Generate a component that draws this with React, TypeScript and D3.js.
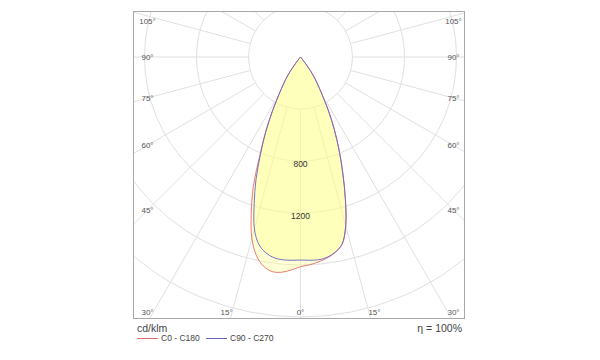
import React, { useEffect, useRef } from 'react'
import * as d3 from 'd3'

// gamma angles (deg from nadir) and luminous intensity (cd/klm) per half plane
const gammas = [0, 2.5, 5, 7.5, 10, 12.5, 15, 17.5, 20, 22.5, 25, 27.5, 30, 32.5, 35, 37.5, 40]
const c0 = [1613, 1600, 1582, 1560, 1528, 1476, 1344, 1148, 952, 776, 615, 465, 328, 237, 161, 60, 0]
const c180 = [1613, 1640, 1662, 1665, 1635, 1565, 1445, 1260, 1060, 815, 630, 465, 328, 237, 161, 60, 0]
const c90 = [1562, 1565, 1566, 1555, 1526, 1476, 1344, 1148, 952, 776, 615, 465, 328, 237, 161, 60, 0]
const c270 = [1562, 1565, 1566, 1558, 1530, 1478, 1370, 1185, 1000, 800, 630, 465, 328, 237, 161, 60, 0]

const ringValues = [400, 800, 1200, 1600, 2000, 2400, 2800]
const ringLabels = [800, 1200]
const spokeAngles = d3.range(-180, 181, 15)
const tickAngles = [-105, -90, -75, -60, -45, -30, -15, 0, 15, 30, 45, 60, 75, 90, 105]

const series = [
  { name: 'C0 - C180', right: c0, left: c180, color: '#e86a6a' },
  { name: 'C90 - C270', right: c90, left: c270, color: '#6a64c8' },
]

const W = 600
const H = 360
const frame = { x0: 133, y0: 11, x1: 465, y1: 319 }
const cx = 300.5
const cy = 57

export default function App() {
  const svgRef = useRef<SVGSVGElement>(null)

  useEffect(() => {
    if (!svgRef.current) return
    const svg = d3.select(svgRef.current)
    svg.selectAll('*').remove()

    const r = d3.scaleLinear().domain([0, 400]).range([0, 52])
    const rad = (deg: number) => (deg * Math.PI) / 180
    const font = 'Liberation Sans, Arial, sans-serif'

    svg.append('rect').attr('width', W).attr('height', H).attr('fill', '#fff')

    svg.append('defs').append('clipPath').attr('id', 'frameClip')
      .append('rect')
      .attr('x', frame.x0).attr('y', frame.y0)
      .attr('width', frame.x1 - frame.x0).attr('height', frame.y1 - frame.y0)

    const plot = svg.append('g').attr('clip-path', 'url(#frameClip)')
    const g = plot.append('g').attr('transform', `translate(${cx},${cy})`)

    // grid circles
    g.selectAll('circle.ring')
      .data(ringValues)
      .join('circle')
      .attr('class', 'ring')
      .attr('r', (d) => r(d))
      .attr('fill', 'none')
      .attr('stroke', '#e0e0e0')
      .attr('stroke-width', 1)

    // spokes, from the first ring outwards
    const rMax = r(ringValues[ringValues.length - 1])
    g.selectAll('line.spoke')
      .data(spokeAngles)
      .join('line')
      .attr('class', 'spoke')
      .attr('x1', (d) => r(400) * Math.sin(rad(d)))
      .attr('y1', (d) => r(400) * Math.cos(rad(d)))
      .attr('x2', (d) => rMax * Math.sin(rad(d)))
      .attr('y2', (d) => rMax * Math.cos(rad(d)))
      .attr('stroke', '#e0e0e0')
      .attr('stroke-width', 1)

    // curves: left half plane from the cut-off down to 0, then right half plane back up
    const line = d3.lineRadial<[number, number]>()
      .angle((d) => d[0])
      .radius((d) => r(d[1]))
      .curve(d3.curveCatmullRom.alpha(0.5))

    const pts = (s: typeof series[0]) => {
      const left = gammas.map((gm, i) => [Math.PI + rad(gm), s.left[i]] as [number, number]).reverse()
      const right = gammas.slice(1).map((gm, i) => [Math.PI - rad(gm), s.right[i + 1]] as [number, number])
      return [...left, ...right]
    }

    series.forEach((s) => {
      g.append('path')
        .attr('d', line(pts(s)) + 'Z')
        .attr('fill', 'rgb(255,255,140)')
        .attr('fill-opacity', 0.36)
        .attr('stroke', 'none')
    })
    series.forEach((s) => {
      g.append('path')
        .attr('d', line(pts(s)) + 'Z')
        .attr('fill', 'none')
        .attr('stroke', s.color)
        .attr('stroke-width', 1)
        .attr('stroke-opacity', 0.9)
    })

    // intensity labels
    g.selectAll('text.rl')
      .data(ringLabels)
      .join('text')
      .attr('class', 'rl')
      .attr('x', 0)
      .attr('y', (d) => r(d) + 3)
      .attr('dy', '0.35em')
      .attr('text-anchor', 'middle')
      .attr('font-family', font)
      .attr('font-size', 8.5)
      .attr('fill', '#333')
      .text((d) => d)

    // frame
    svg.append('rect')
      .attr('x', frame.x0 + 0.5).attr('y', frame.y0 + 0.5)
      .attr('width', frame.x1 - frame.x0 - 1).attr('height', frame.y1 - frame.y0 - 1)
      .attr('fill', 'none')
      .attr('stroke', '#a8a8a8')

    // angle labels
    const halfW = 153
    const bottomReach = 276
    svg.selectAll('text.ang')
      .data(tickAngles)
      .join('text')
      .attr('class', 'ang')
      .each(function (d) {
        const s = Math.sin(rad(d))
        const c = Math.cos(rad(d))
        let x: number
        let y: number
        if (Math.abs(s) < 1e-6 || (c > 0 && Math.abs(bottomReach * s / c) < halfW)) {
          x = cx + (Math.abs(c) > 1e-6 ? (bottomReach * s) / c : 0)
          y = 312
        } else {
          x = cx + Math.sign(s) * halfW
          y = cy + (halfW * c) / Math.abs(s)
        }
        x = Math.max(cx - halfW, Math.min(cx + halfW, x))
        y = Math.max(21, Math.min(312, y))
        d3.select(this).attr('x', x).attr('y', y)
      })
      .attr('dy', '0.35em')
      .attr('text-anchor', 'middle')
      .attr('font-family', font)
      .attr('font-size', 8)
      .attr('fill', '#555')
      .text((d) => `${Math.abs(d)}°`)

    // units and efficiency
    svg.append('text')
      .attr('x', 137).attr('y', 332)
      .attr('font-family', font)
      .attr('font-size', 10.5)
      .attr('fill', '#444')
      .text('cd/klm')
    svg.append('text')
      .attr('x', 462).attr('y', 332)
      .attr('text-anchor', 'end')
      .attr('font-family', font)
      .attr('font-size', 10.5)
      .attr('fill', '#444')
      .text('η = 100%')

    // legend
    const legendX = [137, 206]
    series.forEach((s, i) => {
      const lg = svg.append('g').attr('transform', `translate(${legendX[i]},338.5)`)
      lg.append('line').attr('x1', 0).attr('x2', 21).attr('stroke', s.color).attr('stroke-width', 1)
      lg.append('text')
        .attr('x', 24).attr('dy', '0.35em')
        .attr('font-family', font)
        .attr('font-size', 8.5)
        .attr('fill', '#444')
        .text(s.name)
    })
  }, [])

  return (
    <svg
      ref={svgRef}
      width={W}
      height={H}
      style={{ position: 'absolute', left: 0, top: 0, display: 'block' }}
    />
  )
}
